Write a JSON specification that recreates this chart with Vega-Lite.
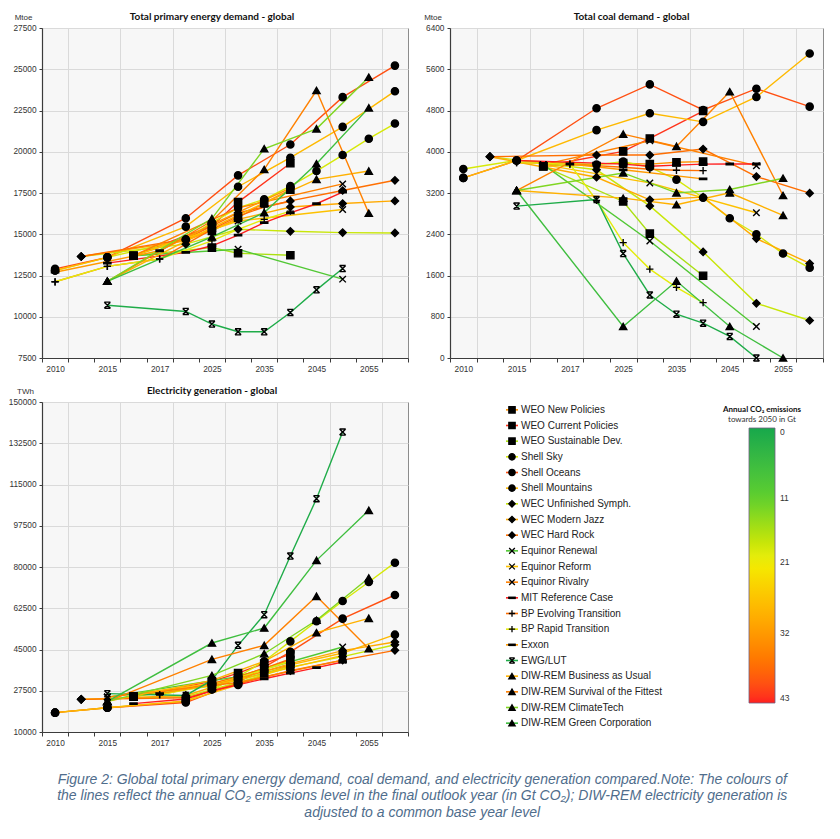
{
"$schema": "https://vega.github.io/schema/vega-lite/v6.json",
"padding": {"left": 6, "top": 11, "right": 5, "bottom": 5},
"background": "white",
"title": {"text": ["Figure 2: Global total primary energy demand, coal demand, and electricity generation compared.Note: The colours of", "the lines reflect the annual CO₂ emissions level in the final outlook year (in Gt CO₂); DIW-REM electricity generation is", "adjusted to a common base year level"], "orient": "bottom", "anchor": "middle", "frame": "bounds", "font": "Liberation Sans", "fontSize": 14, "fontStyle": "italic", "fontWeight": "normal", "color": "#4f6d8c", "lineHeight": 16.5, "offset": 26, "dx": 7},
"datasets": {
"sc": [
{"s": "WEO New Policies", "co2": 33},
{"s": "WEO Current Policies", "co2": 42},
{"s": "WEO Sustainable Dev.", "co2": 16},
{"s": "Shell Sky", "co2": 19},
{"s": "Shell Oceans", "co2": 40},
{"s": "Shell Mountains", "co2": 28},
{"s": "WEC Unfinished Symph.", "co2": 18},
{"s": "WEC Modern Jazz", "co2": 30},
{"s": "WEC Hard Rock", "co2": 37},
{"s": "Equinor Renewal", "co2": 9},
{"s": "Equinor Reform", "co2": 27},
{"s": "Equinor Rivalry", "co2": 35},
{"s": "MIT Reference Case", "co2": 43},
{"s": "BP Evolving Transition", "co2": 37},
{"s": "BP Rapid Transition", "co2": 20},
{"s": "Exxon", "co2": 32},
{"s": "EWG/LUT", "co2": 1},
{"s": "DIW-REM Business as Usual", "co2": 29},
{"s": "DIW-REM Survival of the Fittest", "co2": 35},
{"s": "DIW-REM ClimateTech", "co2": 13},
{"s": "DIW-REM Green Corporation", "co2": 6}
],
"d": [
{"s":"WEO New Policies","p":"e","t":"2016","v":13700},{"s":"WEO New Policies","p":"e","t":"2025","v":15200},{"s":"WEO New Policies","p":"e","t":"2030","v":16000},{"s":"WEO New Policies","p":"e","t":"2035","v":16900},{"s":"WEO New Policies","p":"e","t":"2040","v":17700},
{"s":"WEO Current Policies","p":"e","t":"2016","v":13700},{"s":"WEO Current Policies","p":"e","t":"2025","v":15500},{"s":"WEO Current Policies","p":"e","t":"2030","v":16950},{"s":"WEO Current Policies","p":"e","t":"2040","v":19300},
{"s":"WEO Sustainable Dev.","p":"e","t":"2016","v":13700},{"s":"WEO Sustainable Dev.","p":"e","t":"2025","v":14190},{"s":"WEO Sustainable Dev.","p":"e","t":"2030","v":13850},{"s":"WEO Sustainable Dev.","p":"e","t":"2040","v":13730},
{"s":"Shell Sky","p":"e","t":"2010","v":12800},{"s":"Shell Sky","p":"e","t":"2015","v":13600},{"s":"Shell Sky","p":"e","t":"2020","v":14700},{"s":"Shell Sky","p":"e","t":"2025","v":15700},{"s":"Shell Sky","p":"e","t":"2030","v":16600},{"s":"Shell Sky","p":"e","t":"2035","v":17120},{"s":"Shell Sky","p":"e","t":"2040","v":17920},{"s":"Shell Sky","p":"e","t":"2045","v":18830},{"s":"Shell Sky","p":"e","t":"2050","v":19800},{"s":"Shell Sky","p":"e","t":"2055","v":20790},{"s":"Shell Sky","p":"e","t":"2060","v":21710},
{"s":"Shell Oceans","p":"e","t":"2010","v":12900},{"s":"Shell Oceans","p":"e","t":"2015","v":13600},{"s":"Shell Oceans","p":"e","t":"2020","v":15970},{"s":"Shell Oceans","p":"e","t":"2030","v":18570},{"s":"Shell Oceans","p":"e","t":"2040","v":20440},{"s":"Shell Oceans","p":"e","t":"2050","v":23310},{"s":"Shell Oceans","p":"e","t":"2060","v":25220},
{"s":"Shell Mountains","p":"e","t":"2010","v":12800},{"s":"Shell Mountains","p":"e","t":"2015","v":13600},{"s":"Shell Mountains","p":"e","t":"2020","v":15460},{"s":"Shell Mountains","p":"e","t":"2030","v":17880},{"s":"Shell Mountains","p":"e","t":"2040","v":19640},{"s":"Shell Mountains","p":"e","t":"2050","v":21510},{"s":"Shell Mountains","p":"e","t":"2060","v":23670},
{"s":"WEC Unfinished Symph.","p":"e","t":"2014","v":13650},{"s":"WEC Unfinished Symph.","p":"e","t":"2020","v":14400},{"s":"WEC Unfinished Symph.","p":"e","t":"2030","v":15300},{"s":"WEC Unfinished Symph.","p":"e","t":"2040","v":15180},{"s":"WEC Unfinished Symph.","p":"e","t":"2050","v":15100},{"s":"WEC Unfinished Symph.","p":"e","t":"2060","v":15080},
{"s":"WEC Modern Jazz","p":"e","t":"2014","v":13650},{"s":"WEC Modern Jazz","p":"e","t":"2020","v":14600},{"s":"WEC Modern Jazz","p":"e","t":"2030","v":15900},{"s":"WEC Modern Jazz","p":"e","t":"2040","v":16650},{"s":"WEC Modern Jazz","p":"e","t":"2050","v":16860},{"s":"WEC Modern Jazz","p":"e","t":"2060","v":17020},
{"s":"WEC Hard Rock","p":"e","t":"2014","v":13650},{"s":"WEC Hard Rock","p":"e","t":"2020","v":14700},{"s":"WEC Hard Rock","p":"e","t":"2030","v":16300},{"s":"WEC Hard Rock","p":"e","t":"2040","v":17020},{"s":"WEC Hard Rock","p":"e","t":"2050","v":17650},{"s":"WEC Hard Rock","p":"e","t":"2060","v":18270},
{"s":"Equinor Renewal","p":"e","t":"2016","v":13700},{"s":"Equinor Renewal","p":"e","t":"2030","v":14090},{"s":"Equinor Renewal","p":"e","t":"2050","v":12280},
{"s":"Equinor Reform","p":"e","t":"2016","v":13700},{"s":"Equinor Reform","p":"e","t":"2030","v":15800},{"s":"Equinor Reform","p":"e","t":"2050","v":16500},
{"s":"Equinor Rivalry","p":"e","t":"2016","v":13700},{"s":"Equinor Rivalry","p":"e","t":"2030","v":16600},{"s":"Equinor Rivalry","p":"e","t":"2050","v":18050},
{"s":"MIT Reference Case","p":"e","t":"2015","v":13250},{"s":"MIT Reference Case","p":"e","t":"2020","v":13900},{"s":"MIT Reference Case","p":"e","t":"2025","v":14300},{"s":"MIT Reference Case","p":"e","t":"2030","v":14950},{"s":"MIT Reference Case","p":"e","t":"2035","v":15700},{"s":"MIT Reference Case","p":"e","t":"2040","v":16300},{"s":"MIT Reference Case","p":"e","t":"2045","v":16850},{"s":"MIT Reference Case","p":"e","t":"2050","v":17550},
{"s":"BP Evolving Transition","p":"e","t":"2010","v":12120},{"s":"BP Evolving Transition","p":"e","t":"2015","v":13050},{"s":"BP Evolving Transition","p":"e","t":"2017","v":13500},{"s":"BP Evolving Transition","p":"e","t":"2025","v":15300},{"s":"BP Evolving Transition","p":"e","t":"2030","v":16100},{"s":"BP Evolving Transition","p":"e","t":"2035","v":16650},{"s":"BP Evolving Transition","p":"e","t":"2040","v":17000},
{"s":"BP Rapid Transition","p":"e","t":"2010","v":12120},{"s":"BP Rapid Transition","p":"e","t":"2015","v":13050},{"s":"BP Rapid Transition","p":"e","t":"2017","v":13500},{"s":"BP Rapid Transition","p":"e","t":"2025","v":14600},{"s":"BP Rapid Transition","p":"e","t":"2030","v":15300},{"s":"BP Rapid Transition","p":"e","t":"2035","v":15900},{"s":"BP Rapid Transition","p":"e","t":"2040","v":16400},
{"s":"Exxon","p":"e","t":"2010","v":12700},{"s":"Exxon","p":"e","t":"2017","v":14000},{"s":"Exxon","p":"e","t":"2025","v":15600},{"s":"Exxon","p":"e","t":"2040","v":17800},
{"s":"EWG/LUT","p":"e","t":"2015","v":10700},{"s":"EWG/LUT","p":"e","t":"2020","v":10320},{"s":"EWG/LUT","p":"e","t":"2025","v":9560},{"s":"EWG/LUT","p":"e","t":"2030","v":9090},{"s":"EWG/LUT","p":"e","t":"2035","v":9090},{"s":"EWG/LUT","p":"e","t":"2040","v":10260},{"s":"EWG/LUT","p":"e","t":"2045","v":11630},{"s":"EWG/LUT","p":"e","t":"2050","v":12920},
{"s":"DIW-REM Business as Usual","p":"e","t":"2015","v":12150},{"s":"DIW-REM Business as Usual","p":"e","t":"2025","v":15400},{"s":"DIW-REM Business as Usual","p":"e","t":"2035","v":16900},{"s":"DIW-REM Business as Usual","p":"e","t":"2045","v":18330},{"s":"DIW-REM Business as Usual","p":"e","t":"2055","v":18830},
{"s":"DIW-REM Survival of the Fittest","p":"e","t":"2015","v":12150},{"s":"DIW-REM Survival of the Fittest","p":"e","t":"2025","v":15800},{"s":"DIW-REM Survival of the Fittest","p":"e","t":"2035","v":18930},{"s":"DIW-REM Survival of the Fittest","p":"e","t":"2045","v":23710},{"s":"DIW-REM Survival of the Fittest","p":"e","t":"2055","v":16270},
{"s":"DIW-REM ClimateTech","p":"e","t":"2015","v":12150},{"s":"DIW-REM ClimateTech","p":"e","t":"2025","v":15950},{"s":"DIW-REM ClimateTech","p":"e","t":"2035","v":20180},{"s":"DIW-REM ClimateTech","p":"e","t":"2045","v":21390},{"s":"DIW-REM ClimateTech","p":"e","t":"2055","v":24520},
{"s":"DIW-REM Green Corporation","p":"e","t":"2015","v":12150},{"s":"DIW-REM Green Corporation","p":"e","t":"2025","v":14840},{"s":"DIW-REM Green Corporation","p":"e","t":"2035","v":16310},{"s":"DIW-REM Green Corporation","p":"e","t":"2045","v":19270},{"s":"DIW-REM Green Corporation","p":"e","t":"2055","v":22660},

{"s":"WEO New Policies","p":"c","t":"2016","v":3718},{"s":"WEO New Policies","p":"c","t":"2025","v":3780},{"s":"WEO New Policies","p":"c","t":"2030","v":3760},{"s":"WEO New Policies","p":"c","t":"2035","v":3795},{"s":"WEO New Policies","p":"c","t":"2040","v":3808},
{"s":"WEO Current Policies","p":"c","t":"2016","v":3718},{"s":"WEO Current Policies","p":"c","t":"2025","v":4007},{"s":"WEO Current Policies","p":"c","t":"2030","v":4258},{"s":"WEO Current Policies","p":"c","t":"2040","v":4790},
{"s":"WEO Sustainable Dev.","p":"c","t":"2016","v":3718},{"s":"WEO Sustainable Dev.","p":"c","t":"2025","v":3036},{"s":"WEO Sustainable Dev.","p":"c","t":"2030","v":2412},{"s":"WEO Sustainable Dev.","p":"c","t":"2040","v":1595},
{"s":"Shell Sky","p":"c","t":"2010","v":3666},{"s":"Shell Sky","p":"c","t":"2015","v":3830},{"s":"Shell Sky","p":"c","t":"2020","v":3750},{"s":"Shell Sky","p":"c","t":"2025","v":3808},{"s":"Shell Sky","p":"c","t":"2030","v":3700},{"s":"Shell Sky","p":"c","t":"2035","v":3460},{"s":"Shell Sky","p":"c","t":"2040","v":3107},{"s":"Shell Sky","p":"c","t":"2045","v":2710},{"s":"Shell Sky","p":"c","t":"2050","v":2400},{"s":"Shell Sky","p":"c","t":"2055","v":2026},{"s":"Shell Sky","p":"c","t":"2060","v":1750},
{"s":"Shell Oceans","p":"c","t":"2010","v":3493},{"s":"Shell Oceans","p":"c","t":"2015","v":3830},{"s":"Shell Oceans","p":"c","t":"2020","v":4843},{"s":"Shell Oceans","p":"c","t":"2030","v":5306},{"s":"Shell Oceans","p":"c","t":"2040","v":4811},{"s":"Shell Oceans","p":"c","t":"2050","v":5223},{"s":"Shell Oceans","p":"c","t":"2060","v":4875},
{"s":"Shell Mountains","p":"c","t":"2010","v":3493},{"s":"Shell Mountains","p":"c","t":"2015","v":3830},{"s":"Shell Mountains","p":"c","t":"2020","v":4419},{"s":"Shell Mountains","p":"c","t":"2030","v":4747},{"s":"Shell Mountains","p":"c","t":"2040","v":4580},{"s":"Shell Mountains","p":"c","t":"2050","v":5062},{"s":"Shell Mountains","p":"c","t":"2060","v":5905},
{"s":"WEC Unfinished Symph.","p":"c","t":"2014","v":3904},{"s":"WEC Unfinished Symph.","p":"c","t":"2020","v":3650},{"s":"WEC Unfinished Symph.","p":"c","t":"2030","v":2950},{"s":"WEC Unfinished Symph.","p":"c","t":"2040","v":2058},{"s":"WEC Unfinished Symph.","p":"c","t":"2050","v":1061},{"s":"WEC Unfinished Symph.","p":"c","t":"2060","v":727},
{"s":"WEC Modern Jazz","p":"c","t":"2014","v":3904},{"s":"WEC Modern Jazz","p":"c","t":"2020","v":3505},{"s":"WEC Modern Jazz","p":"c","t":"2030","v":3068},{"s":"WEC Modern Jazz","p":"c","t":"2040","v":3120},{"s":"WEC Modern Jazz","p":"c","t":"2050","v":2316},{"s":"WEC Modern Jazz","p":"c","t":"2060","v":1833},
{"s":"WEC Hard Rock","p":"c","t":"2014","v":3904},{"s":"WEC Hard Rock","p":"c","t":"2020","v":3936},{"s":"WEC Hard Rock","p":"c","t":"2030","v":3936},{"s":"WEC Hard Rock","p":"c","t":"2040","v":4052},{"s":"WEC Hard Rock","p":"c","t":"2050","v":3518},{"s":"WEC Hard Rock","p":"c","t":"2060","v":3197},
{"s":"Equinor Renewal","p":"c","t":"2016","v":3750},{"s":"Equinor Renewal","p":"c","t":"2030","v":2270},{"s":"Equinor Renewal","p":"c","t":"2050","v":611},
{"s":"Equinor Reform","p":"c","t":"2016","v":3750},{"s":"Equinor Reform","p":"c","t":"2030","v":3396},{"s":"Equinor Reform","p":"c","t":"2050","v":2817},
{"s":"Equinor Rivalry","p":"c","t":"2016","v":3750},{"s":"Equinor Rivalry","p":"c","t":"2030","v":4213},{"s":"Equinor Rivalry","p":"c","t":"2050","v":3730},
{"s":"MIT Reference Case","p":"c","t":"2015","v":3830},{"s":"MIT Reference Case","p":"c","t":"2020","v":3780},{"s":"MIT Reference Case","p":"c","t":"2025","v":3760},{"s":"MIT Reference Case","p":"c","t":"2030","v":3720},{"s":"MIT Reference Case","p":"c","t":"2035","v":3740},{"s":"MIT Reference Case","p":"c","t":"2040","v":3760},{"s":"MIT Reference Case","p":"c","t":"2045","v":3763},{"s":"MIT Reference Case","p":"c","t":"2050","v":3763},
{"s":"BP Evolving Transition","p":"c","t":"2015","v":3790},{"s":"BP Evolving Transition","p":"c","t":"2017","v":3760},{"s":"BP Evolving Transition","p":"c","t":"2025","v":3700},{"s":"BP Evolving Transition","p":"c","t":"2030","v":3660},{"s":"BP Evolving Transition","p":"c","t":"2035","v":3640},{"s":"BP Evolving Transition","p":"c","t":"2040","v":3634},
{"s":"BP Rapid Transition","p":"c","t":"2015","v":3790},{"s":"BP Rapid Transition","p":"c","t":"2017","v":3760},{"s":"BP Rapid Transition","p":"c","t":"2020","v":3055},{"s":"BP Rapid Transition","p":"c","t":"2025","v":2238},{"s":"BP Rapid Transition","p":"c","t":"2030","v":1724},{"s":"BP Rapid Transition","p":"c","t":"2035","v":1370},{"s":"BP Rapid Transition","p":"c","t":"2040","v":1074},
{"s":"Exxon","p":"c","t":"2017","v":3763},{"s":"Exxon","p":"c","t":"2025","v":3650},{"s":"Exxon","p":"c","t":"2040","v":3473},
{"s":"EWG/LUT","p":"c","t":"2015","v":2946},{"s":"EWG/LUT","p":"c","t":"2020","v":3074},{"s":"EWG/LUT","p":"c","t":"2025","v":2026},{"s":"EWG/LUT","p":"c","t":"2030","v":1222},{"s":"EWG/LUT","p":"c","t":"2035","v":849},{"s":"EWG/LUT","p":"c","t":"2040","v":675},{"s":"EWG/LUT","p":"c","t":"2045","v":418},{"s":"EWG/LUT","p":"c","t":"2050","v":0},
{"s":"DIW-REM Business as Usual","p":"c","t":"2015","v":3248},{"s":"DIW-REM Business as Usual","p":"c","t":"2025","v":3100},{"s":"DIW-REM Business as Usual","p":"c","t":"2035","v":2972},{"s":"DIW-REM Business as Usual","p":"c","t":"2045","v":3203},{"s":"DIW-REM Business as Usual","p":"c","t":"2055","v":2766},
{"s":"DIW-REM Survival of the Fittest","p":"c","t":"2015","v":3248},{"s":"DIW-REM Survival of the Fittest","p":"c","t":"2025","v":4342},{"s":"DIW-REM Survival of the Fittest","p":"c","t":"2035","v":4104},{"s":"DIW-REM Survival of the Fittest","p":"c","t":"2045","v":5165},{"s":"DIW-REM Survival of the Fittest","p":"c","t":"2055","v":3152},
{"s":"DIW-REM ClimateTech","p":"c","t":"2015","v":3248},{"s":"DIW-REM ClimateTech","p":"c","t":"2025","v":3589},{"s":"DIW-REM ClimateTech","p":"c","t":"2035","v":3203},{"s":"DIW-REM ClimateTech","p":"c","t":"2045","v":3267},{"s":"DIW-REM ClimateTech","p":"c","t":"2055","v":3486},
{"s":"DIW-REM Green Corporation","p":"c","t":"2015","v":3248},{"s":"DIW-REM Green Corporation","p":"c","t":"2025","v":611},{"s":"DIW-REM Green Corporation","p":"c","t":"2035","v":1492},{"s":"DIW-REM Green Corporation","p":"c","t":"2045","v":611},{"s":"DIW-REM Green Corporation","p":"c","t":"2055","v":0},

{"s":"WEO New Policies","p":"g","t":"2016","v":25000},{"s":"WEO New Policies","p":"g","t":"2025","v":30500},{"s":"WEO New Policies","p":"g","t":"2030","v":33500},{"s":"WEO New Policies","p":"g","t":"2035","v":37000},{"s":"WEO New Policies","p":"g","t":"2040","v":40500},
{"s":"WEO Current Policies","p":"g","t":"2016","v":25000},{"s":"WEO Current Policies","p":"g","t":"2025","v":31500},{"s":"WEO Current Policies","p":"g","t":"2030","v":35000},{"s":"WEO Current Policies","p":"g","t":"2035","v":39000},{"s":"WEO Current Policies","p":"g","t":"2040","v":43000},
{"s":"WEO Sustainable Dev.","p":"g","t":"2016","v":25000},{"s":"WEO Sustainable Dev.","p":"g","t":"2025","v":29500},{"s":"WEO Sustainable Dev.","p":"g","t":"2030","v":32000},{"s":"WEO Sustainable Dev.","p":"g","t":"2035","v":35000},{"s":"WEO Sustainable Dev.","p":"g","t":"2040","v":38000},
{"s":"Shell Sky","p":"g","t":"2010","v":18200},{"s":"Shell Sky","p":"g","t":"2015","v":20300},{"s":"Shell Sky","p":"g","t":"2020","v":23000},{"s":"Shell Sky","p":"g","t":"2025","v":28000},{"s":"Shell Sky","p":"g","t":"2030","v":33500},{"s":"Shell Sky","p":"g","t":"2035","v":40000},{"s":"Shell Sky","p":"g","t":"2040","v":48460},{"s":"Shell Sky","p":"g","t":"2045","v":57000},{"s":"Shell Sky","p":"g","t":"2050","v":65570},{"s":"Shell Sky","p":"g","t":"2055","v":73630},{"s":"Shell Sky","p":"g","t":"2060","v":81830},
{"s":"Shell Oceans","p":"g","t":"2010","v":18200},{"s":"Shell Oceans","p":"g","t":"2015","v":20300},{"s":"Shell Oceans","p":"g","t":"2020","v":22500},{"s":"Shell Oceans","p":"g","t":"2030","v":31000},{"s":"Shell Oceans","p":"g","t":"2040","v":44000},{"s":"Shell Oceans","p":"g","t":"2050","v":58080},{"s":"Shell Oceans","p":"g","t":"2060","v":68120},
{"s":"Shell Mountains","p":"g","t":"2010","v":18200},{"s":"Shell Mountains","p":"g","t":"2015","v":20300},{"s":"Shell Mountains","p":"g","t":"2020","v":23150},{"s":"Shell Mountains","p":"g","t":"2030","v":30000},{"s":"Shell Mountains","p":"g","t":"2040","v":38500},{"s":"Shell Mountains","p":"g","t":"2050","v":43500},{"s":"Shell Mountains","p":"g","t":"2060","v":51290},
{"s":"WEC Unfinished Symph.","p":"g","t":"2014","v":23860},{"s":"WEC Unfinished Symph.","p":"g","t":"2020","v":25000},{"s":"WEC Unfinished Symph.","p":"g","t":"2030","v":31000},{"s":"WEC Unfinished Symph.","p":"g","t":"2040","v":37500},{"s":"WEC Unfinished Symph.","p":"g","t":"2050","v":42000},{"s":"WEC Unfinished Symph.","p":"g","t":"2060","v":47000},
{"s":"WEC Modern Jazz","p":"g","t":"2014","v":23860},{"s":"WEC Modern Jazz","p":"g","t":"2020","v":25500},{"s":"WEC Modern Jazz","p":"g","t":"2030","v":32500},{"s":"WEC Modern Jazz","p":"g","t":"2040","v":39000},{"s":"WEC Modern Jazz","p":"g","t":"2050","v":44500},{"s":"WEC Modern Jazz","p":"g","t":"2060","v":48180},
{"s":"WEC Hard Rock","p":"g","t":"2014","v":23860},{"s":"WEC Hard Rock","p":"g","t":"2020","v":24500},{"s":"WEC Hard Rock","p":"g","t":"2030","v":30500},{"s":"WEC Hard Rock","p":"g","t":"2040","v":36000},{"s":"WEC Hard Rock","p":"g","t":"2050","v":40500},{"s":"WEC Hard Rock","p":"g","t":"2060","v":44640},
{"s":"Equinor Renewal","p":"g","t":"2015","v":24800},{"s":"Equinor Renewal","p":"g","t":"2030","v":33500},{"s":"Equinor Renewal","p":"g","t":"2050","v":46060},
{"s":"Equinor Reform","p":"g","t":"2015","v":24800},{"s":"Equinor Reform","p":"g","t":"2030","v":32000},{"s":"Equinor Reform","p":"g","t":"2050","v":42500},
{"s":"Equinor Rivalry","p":"g","t":"2015","v":24800},{"s":"Equinor Rivalry","p":"g","t":"2030","v":31000},{"s":"Equinor Rivalry","p":"g","t":"2050","v":40500},
{"s":"MIT Reference Case","p":"g","t":"2016","v":22020},{"s":"MIT Reference Case","p":"g","t":"2020","v":24000},{"s":"MIT Reference Case","p":"g","t":"2025","v":27500},{"s":"MIT Reference Case","p":"g","t":"2030","v":30000},{"s":"MIT Reference Case","p":"g","t":"2035","v":32600},{"s":"MIT Reference Case","p":"g","t":"2040","v":35000},{"s":"MIT Reference Case","p":"g","t":"2045","v":37290},{"s":"MIT Reference Case","p":"g","t":"2050","v":39700},
{"s":"BP Evolving Transition","p":"g","t":"2017","v":25800},{"s":"BP Evolving Transition","p":"g","t":"2025","v":30500},{"s":"BP Evolving Transition","p":"g","t":"2030","v":33500},{"s":"BP Evolving Transition","p":"g","t":"2035","v":37000},{"s":"BP Evolving Transition","p":"g","t":"2040","v":41000},
{"s":"BP Rapid Transition","p":"g","t":"2017","v":25800},{"s":"BP Rapid Transition","p":"g","t":"2025","v":30000},{"s":"BP Rapid Transition","p":"g","t":"2030","v":33000},{"s":"BP Rapid Transition","p":"g","t":"2035","v":36500},{"s":"BP Rapid Transition","p":"g","t":"2040","v":40000},
{"s":"Exxon","p":"g","t":"2017","v":26260},{"s":"Exxon","p":"g","t":"2025","v":30000},{"s":"Exxon","p":"g","t":"2040","v":38500},
{"s":"EWG/LUT","p":"g","t":"2015","v":26260},{"s":"EWG/LUT","p":"g","t":"2020","v":25500},{"s":"EWG/LUT","p":"g","t":"2025","v":32000},{"s":"EWG/LUT","p":"g","t":"2030","v":46760},{"s":"EWG/LUT","p":"g","t":"2035","v":59770},{"s":"EWG/LUT","p":"g","t":"2040","v":84660},{"s":"EWG/LUT","p":"g","t":"2045","v":108980},{"s":"EWG/LUT","p":"g","t":"2050","v":137260},
{"s":"DIW-REM Business as Usual","p":"g","t":"2015","v":23000},{"s":"DIW-REM Business as Usual","p":"g","t":"2025","v":31900},{"s":"DIW-REM Business as Usual","p":"g","t":"2035","v":40000},{"s":"DIW-REM Business as Usual","p":"g","t":"2045","v":52140},{"s":"DIW-REM Business as Usual","p":"g","t":"2055","v":58220},
{"s":"DIW-REM Survival of the Fittest","p":"g","t":"2015","v":23000},{"s":"DIW-REM Survival of the Fittest","p":"g","t":"2025","v":40830},{"s":"DIW-REM Survival of the Fittest","p":"g","t":"2035","v":46760},{"s":"DIW-REM Survival of the Fittest","p":"g","t":"2045","v":67550},{"s":"DIW-REM Survival of the Fittest","p":"g","t":"2055","v":45350},
{"s":"DIW-REM ClimateTech","p":"g","t":"2015","v":23000},{"s":"DIW-REM ClimateTech","p":"g","t":"2025","v":34000},{"s":"DIW-REM ClimateTech","p":"g","t":"2035","v":43200},{"s":"DIW-REM ClimateTech","p":"g","t":"2045","v":57400},{"s":"DIW-REM ClimateTech","p":"g","t":"2055","v":75330},
{"s":"DIW-REM Green Corporation","p":"g","t":"2015","v":23000},{"s":"DIW-REM Green Corporation","p":"g","t":"2025","v":47750},{"s":"DIW-REM Green Corporation","p":"g","t":"2035","v":54110},{"s":"DIW-REM Green Corporation","p":"g","t":"2045","v":82820},{"s":"DIW-REM Green Corporation","p":"g","t":"2055","v":104030}
]
},
"spacing": 12,
"resolve": {"scale": {"color": "independent", "shape": "independent"}, "legend": {"color": "independent", "shape": "independent"}},
"vconcat": [
{
"hconcat": [
{
"width": 366, "height": 330,
"title": {"text": "Total primary energy demand - global", "font": "Lato", "fontSize": 10, "fontWeight": "bold", "color": "#111", "offset": -9, "dx": -13},
"data": {"name": "d"},
"transform": [{"filter": "datum.p === 'e'"}, {"lookup": "s", "from": {"data": {"name": "sc"}, "key": "s", "fields": ["co2"]}}],
"encoding": {
"x": {"field": "t", "type": "ordinal", "scale": {"type": "band", "domain": ["2010","2014","2015","2016","2017","2020","2025","2030","2035","2040","2045","2050","2055","2060"], "paddingInner": 0, "paddingOuter": 0}, "axis": {"title": null, "grid": true, "tickBand": "extent", "labelAngle": 0, "labelOverlap": false, "labelExpr": "indexof(['2010','2015','2017','2025','2035','2045','2055'], datum.value) >= 0 ? datum.label : ''", "gridOpacity": {"condition": {"test": "indexof(['2010','2015','2017','2025','2035','2045','2055'], datum.value) >= 0", "value": 1}, "value": 0}}},
"y": {"field": "v", "type": "quantitative", "scale": {"domain": [7500, 27500], "nice": false, "zero": false}, "axis": {"title": "Mtoe", "titleX": -10, "format": "d", "values": [7500, 10000, 12500, 15000, 17500, 20000, 22500, 25000, 27500]}}
},
"layer": [
{"mark": {"type": "line", "strokeWidth": 1.4}, "encoding": {"detail": {"field": "s"}, "color": {"field": "co2", "type": "quantitative", "scale": {"domain": [43, 32, 21, 11, 0], "range": ["#ff1f1f", "#ff9a00", "#f2ee10", "#5fcf2d", "#17a84b"]}, "legend": null}}},
{"mark": {"type": "point", "filled": true, "fill": "black", "stroke": "black", "strokeWidth": 1.4, "size": 52, "opacity": 1}, "encoding": {"shape": {"field": "s", "type": "nominal", "scale": {"domain": ["WEO New Policies","WEO Current Policies","WEO Sustainable Dev.","Shell Sky","Shell Oceans","Shell Mountains","WEC Unfinished Symph.","WEC Modern Jazz","WEC Hard Rock","Equinor Renewal","Equinor Reform","Equinor Rivalry","MIT Reference Case","BP Evolving Transition","BP Rapid Transition","Exxon","EWG/LUT","DIW-REM Business as Usual","DIW-REM Survival of the Fittest","DIW-REM ClimateTech","DIW-REM Green Corporation"], "range": ["square","square","square","circle","circle","circle","diamond","diamond","diamond","M-0.9,-0.9L0.9,0.9M0.9,-0.9L-0.9,0.9","M-0.9,-0.9L0.9,0.9M0.9,-0.9L-0.9,0.9","M-0.9,-0.9L0.9,0.9M0.9,-0.9L-0.9,0.9","M-1,-0.2H1V0.2H-1Z","M-1,0H1M0,-1V1","M-1,0H1M0,-1V1","M-1,-0.2H1V0.2H-1Z","M-0.85,-0.85L0.85,0.85M0.85,-0.85L-0.85,0.85M-0.85,-0.85H0.85M-0.85,0.85H0.85","triangle-up","triangle-up","triangle-up","triangle-up"]}, "legend": null}}}
]
},
{
"width": 373, "height": 330,
"title": {"text": "Total coal demand - global", "font": "Lato", "fontSize": 10, "fontWeight": "bold", "color": "#111", "offset": -9, "dx": -5},
"data": {"name": "d"},
"transform": [{"filter": "datum.p === 'c'"}, {"lookup": "s", "from": {"data": {"name": "sc"}, "key": "s", "fields": ["co2"]}}],
"encoding": {
"x": {"field": "t", "type": "ordinal", "scale": {"type": "band", "domain": ["2010","2014","2015","2016","2017","2020","2025","2030","2035","2040","2045","2050","2055","2060"], "paddingInner": 0, "paddingOuter": 0}, "axis": {"title": null, "grid": true, "tickBand": "extent", "labelAngle": 0, "labelOverlap": false, "labelExpr": "indexof(['2010','2015','2017','2025','2035','2045','2055'], datum.value) >= 0 ? datum.label : ''", "gridOpacity": {"condition": {"test": "indexof(['2010','2015','2017','2025','2035','2045','2055'], datum.value) >= 0", "value": 1}, "value": 0}}},
"y": {"field": "v", "type": "quantitative", "scale": {"domain": [0, 6400], "nice": false}, "axis": {"title": "Mtoe", "titleX": -8.5, "format": "d", "values": [0, 800, 1600, 2400, 3200, 4000, 4800, 5600, 6400]}}
},
"layer": [
{"mark": {"type": "line", "strokeWidth": 1.4}, "encoding": {"detail": {"field": "s"}, "color": {"field": "co2", "type": "quantitative", "scale": {"domain": [43, 32, 21, 11, 0], "range": ["#ff1f1f", "#ff9a00", "#f2ee10", "#5fcf2d", "#17a84b"]}, "legend": null}}},
{"mark": {"type": "point", "filled": true, "fill": "black", "stroke": "black", "strokeWidth": 1.4, "size": 52, "opacity": 1}, "encoding": {"shape": {"field": "s", "type": "nominal", "scale": {"domain": ["WEO New Policies","WEO Current Policies","WEO Sustainable Dev.","Shell Sky","Shell Oceans","Shell Mountains","WEC Unfinished Symph.","WEC Modern Jazz","WEC Hard Rock","Equinor Renewal","Equinor Reform","Equinor Rivalry","MIT Reference Case","BP Evolving Transition","BP Rapid Transition","Exxon","EWG/LUT","DIW-REM Business as Usual","DIW-REM Survival of the Fittest","DIW-REM ClimateTech","DIW-REM Green Corporation"], "range": ["square","square","square","circle","circle","circle","diamond","diamond","diamond","M-0.9,-0.9L0.9,0.9M0.9,-0.9L-0.9,0.9","M-0.9,-0.9L0.9,0.9M0.9,-0.9L-0.9,0.9","M-0.9,-0.9L0.9,0.9M0.9,-0.9L-0.9,0.9","M-1,-0.2H1V0.2H-1Z","M-1,0H1M0,-1V1","M-1,0H1M0,-1V1","M-1,-0.2H1V0.2H-1Z","M-0.85,-0.85L0.85,0.85M0.85,-0.85L-0.85,0.85M-0.85,-0.85H0.85M-0.85,0.85H0.85","triangle-up","triangle-up","triangle-up","triangle-up"]}, "legend": null}}}
]
}
],
"spacing": 42,
"bounds": "flush",
"resolve": {"scale": {"color": "independent", "shape": "independent"}, "legend": {"color": "independent", "shape": "independent"}}
},
{
"hconcat": [
{
"width": 366, "height": 330,
"title": {"text": "Electricity generation - global", "font": "Lato", "fontSize": 10, "fontWeight": "bold", "color": "#111", "offset": -9, "dx": -13},
"data": {"name": "d"},
"transform": [{"filter": "datum.p === 'g'"}, {"lookup": "s", "from": {"data": {"name": "sc"}, "key": "s", "fields": ["co2"]}}],
"encoding": {
"x": {"field": "t", "type": "ordinal", "scale": {"type": "band", "domain": ["2010","2014","2015","2016","2017","2020","2025","2030","2035","2040","2045","2050","2055","2060"], "paddingInner": 0, "paddingOuter": 0}, "axis": {"title": null, "grid": true, "tickBand": "extent", "labelAngle": 0, "labelOverlap": false, "labelExpr": "indexof(['2010','2015','2017','2025','2035','2045','2055'], datum.value) >= 0 ? datum.label : ''", "gridOpacity": {"condition": {"test": "indexof(['2010','2015','2017','2025','2035','2045','2055'], datum.value) >= 0", "value": 1}, "value": 0}}},
"y": {"field": "v", "type": "quantitative", "scale": {"domain": [10000, 150000], "nice": false, "zero": false}, "axis": {"title": "TWh", "titleX": -8.5, "format": "d", "values": [10000, 27500, 45000, 62500, 80000, 97500, 115000, 132500, 150000]}}
},
"layer": [
{"mark": {"type": "line", "strokeWidth": 1.4}, "encoding": {"detail": {"field": "s"}, "color": {"field": "co2", "type": "quantitative", "scale": {"domain": [43, 32, 21, 11, 0], "range": ["#ff1f1f", "#ff9a00", "#f2ee10", "#5fcf2d", "#17a84b"]}, "legend": null}}},
{"mark": {"type": "point", "filled": true, "fill": "black", "stroke": "black", "strokeWidth": 1.4, "size": 52, "opacity": 1}, "encoding": {"shape": {"field": "s", "type": "nominal", "scale": {"domain": ["WEO New Policies","WEO Current Policies","WEO Sustainable Dev.","Shell Sky","Shell Oceans","Shell Mountains","WEC Unfinished Symph.","WEC Modern Jazz","WEC Hard Rock","Equinor Renewal","Equinor Reform","Equinor Rivalry","MIT Reference Case","BP Evolving Transition","BP Rapid Transition","Exxon","EWG/LUT","DIW-REM Business as Usual","DIW-REM Survival of the Fittest","DIW-REM ClimateTech","DIW-REM Green Corporation"], "range": ["square","square","square","circle","circle","circle","diamond","diamond","diamond","M-0.9,-0.9L0.9,0.9M0.9,-0.9L-0.9,0.9","M-0.9,-0.9L0.9,0.9M0.9,-0.9L-0.9,0.9","M-0.9,-0.9L0.9,0.9M0.9,-0.9L-0.9,0.9","M-1,-0.2H1V0.2H-1Z","M-1,0H1M0,-1V1","M-1,0H1M0,-1V1","M-1,-0.2H1V0.2H-1Z","M-0.85,-0.85L0.85,0.85M0.85,-0.85L-0.85,0.85M-0.85,-0.85H0.85M-0.85,0.85H0.85","triangle-up","triangle-up","triangle-up","triangle-up"]}, "legend": null}}}
]
},
{
"width": 200, "height": 329,
"view": {"stroke": null, "fill": null},
"title": {"text": "Annual CO₂ emissions", "subtitle": "towards 2050 in Gt", "anchor": "end", "frame": "group", "align": "center", "dx": 56, "offset": -22, "font": "Lato", "fontSize": 8, "fontWeight": "bold", "color": "#111", "subtitleFont": "Lato", "subtitleFontSize": 8, "subtitleFontWeight": "normal", "subtitleColor": "#333", "subtitlePadding": 2},
"data": {"name": "sc"},
"encoding": {
"y": {"field": "s", "type": "nominal", "sort": null, "scale": {"type": "band", "paddingInner": 0, "paddingOuter": 0}, "axis": null}
},
"layer": [
{"mark": {"type": "rule", "strokeWidth": 1.6}, "encoding": {"x": {"datum": 0, "type": "quantitative", "scale": {"domain": [0, 100]}, "axis": null}, "x2": {"datum": 6}, "color": {"field": "co2", "type": "quantitative", "scale": {"domain": [43, 32, 21, 11, 0], "range": ["#ff1f1f", "#ff9a00", "#f2ee10", "#5fcf2d", "#17a84b"]}, "legend": {"orient": "none", "legendX": 243, "legendY": 26, "title": null, "direction": "vertical", "gradientLength": 275, "gradientThickness": 26, "values": [0, 11, 21, 32, 43], "labelFont": "Liberation Sans", "labelFontSize": 8.5, "labelColor": "#333", "labelOffset": 5, "gradientStrokeColor": "#6e6080", "gradientStrokeWidth": 0.8, "padding": 0}}}},
{"mark": {"type": "point", "filled": true, "fill": "black", "stroke": "black", "strokeWidth": 1.3, "size": 40, "opacity": 1}, "encoding": {"x": {"datum": 3, "type": "quantitative", "axis": null}, "shape": {"field": "s", "type": "nominal", "scale": {"domain": ["WEO New Policies","WEO Current Policies","WEO Sustainable Dev.","Shell Sky","Shell Oceans","Shell Mountains","WEC Unfinished Symph.","WEC Modern Jazz","WEC Hard Rock","Equinor Renewal","Equinor Reform","Equinor Rivalry","MIT Reference Case","BP Evolving Transition","BP Rapid Transition","Exxon","EWG/LUT","DIW-REM Business as Usual","DIW-REM Survival of the Fittest","DIW-REM ClimateTech","DIW-REM Green Corporation"], "range": ["square","square","square","circle","circle","circle","diamond","diamond","diamond","M-0.9,-0.9L0.9,0.9M0.9,-0.9L-0.9,0.9","M-0.9,-0.9L0.9,0.9M0.9,-0.9L-0.9,0.9","M-0.9,-0.9L0.9,0.9M0.9,-0.9L-0.9,0.9","M-1,-0.2H1V0.2H-1Z","M-1,0H1M0,-1V1","M-1,0H1M0,-1V1","M-1,-0.2H1V0.2H-1Z","M-0.85,-0.85L0.85,0.85M0.85,-0.85L-0.85,0.85M-0.85,-0.85H0.85M-0.85,0.85H0.85","triangle-up","triangle-up","triangle-up","triangle-up"]}, "legend": null}}},
{"mark": {"type": "text", "align": "left", "baseline": "middle", "font": "Liberation Sans", "fontSize": 10, "color": "#222"}, "encoding": {"x": {"datum": 7.5, "type": "quantitative", "axis": null}, "text": {"field": "s"}}}
]
}
],
"spacing": 98,
"bounds": "flush",
"resolve": {"scale": {"color": "independent", "shape": "independent"}, "legend": {"color": "independent", "shape": "independent"}}
}
],
"config": {
"font": "Lato",
"view": {"stroke": "#8c8c8c", "fill": "#f7f7f7", "strokeWidth": 1},
"axis": {"labelFont": "Liberation Sans", "labelFontSize": 8.3, "labelColor": "#333", "gridColor": "#dadada", "gridWidth": 1, "domainColor": "#3c3c3c", "domainWidth": 1.2, "tickColor": "#3c3c3c", "tickSize": 4, "labelPadding": 2, "titleFont": "Liberation Sans", "titleFontSize": 8, "titleFontWeight": "normal", "titleColor": "#333"},
"axisY": {"titleAngle": 0, "titleAlign": "right", "titleBaseline": "middle", "titleY": -11, "tickSize": 3, "labelPadding": 3, "minExtent": 35}
}
}
